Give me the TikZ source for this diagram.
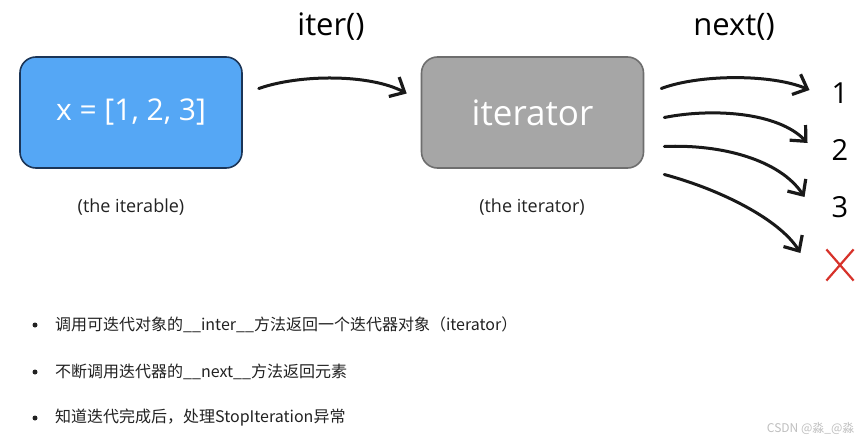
\documentclass[tikz,border=0pt]{standalone}
\usepackage{fontspec}
\setmainfont{Open Sans}
\newfontfamily\cjk{Noto Sans CJK SC}
\usetikzlibrary{arrows.meta,shapes.misc,calc}
\definecolor{boxblue}{HTML}{55A7F5}
\definecolor{boxblueline}{HTML}{1B3557}
\definecolor{boxgray}{HTML}{A6A6A6}
\definecolor{boxgrayline}{HTML}{6E6E6E}
\definecolor{txt}{HTML}{222222}
\definecolor{crossred}{HTML}{D7322A}
\tikzset{
  bigbox/.style={rounded corners=16pt, minimum width=222pt, minimum height=111pt,
    line width=1.6pt, text=white, font=\fontsize{30}{34}\selectfont, inner sep=0pt},
  caption/.style={font=\fontsize{18}{22}\selectfont, text=txt},
  title/.style={font=\fontsize{31}{36}\selectfont, text=black},
  num/.style={font=\fontsize{29}{34}\selectfont, text=black, inner sep=0pt},
  brush/.style={line width=3pt, line cap=round, draw=black!90,
    -{Straight Barb[length=12pt,width=22pt,line width=3.2pt]}},
  bullet/.style={circle, fill=txt, inner sep=0pt, minimum size=5pt},
  btext/.style={anchor=west, font=\cjk\fontsize{16}{20}\selectfont, text=txt, inner sep=0pt},
}
\begin{document}
\begin{tikzpicture}[x=1pt,y=-1pt]
\path[use as bounding box, fill=white] (0,0) rectangle (865,444);

\node[bigbox, fill=boxblue, draw=boxblueline] (iterable) at (131,112.5) {x = [1, 2, 3]};
\node[bigbox, fill=boxgray, draw=boxgrayline, font=\fontsize{35}{40}\selectfont] (iterator) at (532.5,112.5) {iterator};
\node[caption] (capa) at (131,207) {(the iterable)};
\node[caption] (capb) at (532,207) {(the iterator)};
\node[title] (iter) at (331,27) {iter()};
\node[title] (next) at (734,27) {next()};

\node[num] (n1) at (840,93) {1};
\node[num] (n2) at (840,150) {2};
\node[num] (n3) at (840,207) {3};
\node[cross out, draw=crossred, line width=2.2pt, minimum width=25pt, minimum height=29pt, inner sep=0pt] (nx) at (840,265) {};

\draw[brush] ($(iterable.east)+(16,-24)$) .. controls (300,74) and (370,74) .. ($(iterator.west)+(-14,-19)$);

\draw[brush] ($(iterator.east)+(17,-24)$) .. controls (700,74) and (772,74) .. ($(n1.west)+(-22,-3)$);
\draw[brush] ($(iterator.east)+(20,5)$) .. controls (712,108) and (778,112) .. ($(n2.west)+(-24,-7)$);
\draw[brush] ($(iterator.east)+(20,34)$) .. controls (722,144) and (780,160) .. ($(n3.west)+(-27,-10)$);
\draw[brush] ($(iterator.east)+(20,62)$) .. controls (722,190) and (780,220) .. ($(nx.west)+(-26,-12)$);

\node[bullet] (b1) at (35,325) {};
\node[bullet] (b2) at (35,372) {};
\node[bullet] (b3) at (35,418) {};
\node[btext] (t1) at (55,325) {调用可迭代对象的\_\_inter\_\_方法返回一个迭代器对象（iterator）};
\node[btext] (t2) at (55,372) {不断调用迭代器的\_\_next\_\_方法返回元素};
\node[btext] (t3) at (55,418) {知道迭代完成后，处理StopIteration异常};

\node[anchor=east, font=\cjk\fontsize{12}{14}\selectfont, text=black!25] (wm) at (858,428) {CSDN @淼\_@淼};
\end{tikzpicture}
\end{document}
